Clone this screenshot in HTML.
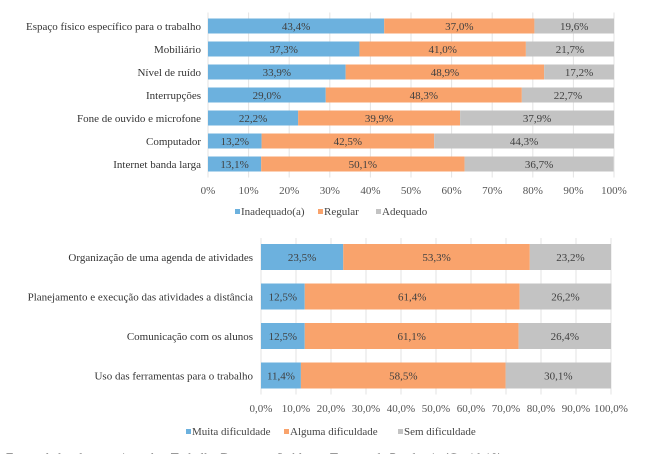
<!DOCTYPE html>
<html><head><meta charset="utf-8"><style>
body{margin:0;background:#fff;width:650px;height:454px;overflow:hidden}
svg{display:block;font-family:"Liberation Serif",serif}
</style></head><body>
<svg id="c" width="650" height="454"></svg>
<script>
const cats1=["Espaço físico específico para o trabalho","Mobiliário","Nível de ruído","Interrupções","Fone de ouvido e microfone","Computador","Internet banda larga"];
const inad=[43.4,37.3,33.9,29.0,22.2,13.2,13.1];
const regular=[37.0,41.0,48.9,48.3,39.9,42.5,50.1];
const adeq=[19.6,21.7,17.2,22.7,37.9,44.3,36.7];
const ticks1=["0%","10%","20%","30%","40%","50%","60%","70%","80%","90%","100%"];
const cats2=["Organização de uma agenda de atividades","Planejamento e execução das atividades a distância","Comunicação com os alunos","Uso das ferramentas para o trabalho"];
const muita=[23.5,12.5,12.5,11.4];
const alguma=[53.3,61.4,61.1,58.5];
const sem=[23.2,26.2,26.4,30.1];
const ticks2=["0,0%","10,0%","20,0%","30,0%","40,0%","50,0%","60,0%","70,0%","80,0%","90,0%","100,0%"];
const cols=["#6cb1de","#f9a36c","#c3c3c3"];
const svg=document.getElementById('c');
const NS="http://www.w3.org/2000/svg";
function el(t,a,txt){const e=document.createElementNS(NS,t);for(const k in a)e.setAttribute(k,a[k]);if(txt!=null)e.textContent=txt;svg.appendChild(e);return e;}
function chart(o){
  const x=v=>o.x0+(o.x1-o.x0)*v/100;
  const y=i=>o.y0+o.step*i;
  o.ticks.forEach((t,i)=>{
    const g=el('line',{x1:x(i*10),x2:x(i*10),y1:o.y0-o.h/2-6,y2:o.y0+o.step*(o.cats.length-1)+o.h/2+6,stroke:'#e3e3e3','stroke-width':1});
    
    const tl=el('text',{x:x(i*10),y:o.ty,'text-anchor':'middle','font-size':11,fill:'#555'},t);
    
  });
  o.cats.forEach((c,i)=>{
    const l=el('text',{x:o.lx,y:y(i)+4,'text-anchor':'end','font-size':11,fill:'#333'},c);
    
    let acc=0;
    o.series.forEach((s,j)=>{
      const v=s[i];
      const r=el('rect',{x:x(acc),y:y(i)-o.h/2,width:x(acc+v)-x(acc),height:o.h,fill:cols[j]});
      
      const t=el('text',{x:(x(acc)+x(acc+v))/2,y:y(i)+4,'text-anchor':'middle','font-size':11,fill:'#404040'},v.toFixed(1).replace('.',',')+'%');
      
      acc+=v;
    });
  });
  o.legend.forEach((n,j)=>{
    const r=el('rect',{x:o.lgx[j],y:o.ly-6,width:5,height:5,fill:cols[j]});
    
    const t=el('text',{x:o.lgx[j]+6,y:o.ly,'font-size':11,fill:'#444'},n);
    
  });
}
chart({cats:cats1,series:[inad,regular,adeq],ticks:ticks1,x0:208,x1:614,y0:26,step:23,h:15,lx:201,ty:194,ly:215,legend:["Inadequado(a)","Regular","Adequado"],lgx:[235,318,376]});
chart({cats:cats2,series:[muita,alguma,sem],ticks:ticks2,x0:261,x1:611,y0:257,step:39.5,h:26,lx:253,ty:412,ly:435,legend:["Muita dificuldade","Alguma dificuldade","Sem dificuldade"],lgx:[186,284,398]});
const f=el('text',{x:6,y:462,'font-size':13,fill:'#333'},"Fonte: dados da pesquisa sobre Trabalho Docente e Saúde em Tempos de Pandemia (Covid-19)");

</script>
</body></html>
